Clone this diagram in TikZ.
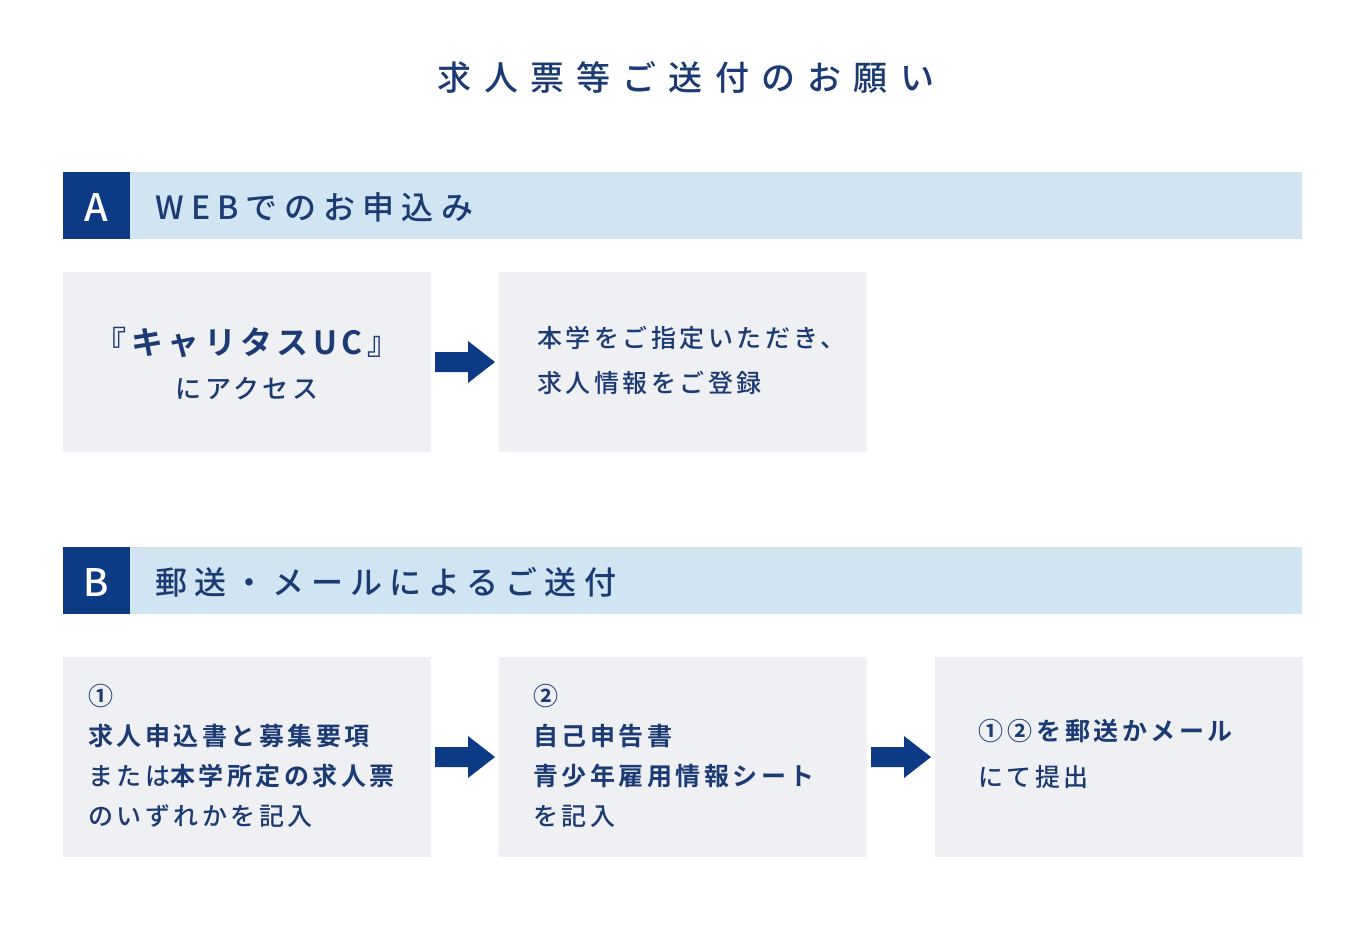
\documentclass[tikz,border=0pt]{standalone}
\usepackage{fontspec}
\setmainfont{Noto Sans CJK JP}[LetterSpace=14]
\newfontfamily\jpb{Noto Sans CJK JP Bold}[LetterSpace=14]
\newfontfamily\jpm{Noto Sans CJK JP Medium}[LetterSpace=14]
\newfontfamily\jph{Noto Sans CJK JP Medium}[LetterSpace=22]
\newfontfamily\jpt{Noto Sans CJK JP Medium}[LetterSpace=36]
\newfontfamily\jpo{Noto Sans CJK JP Medium}
\definecolor{navy}{HTML}{0D3A85}
\definecolor{txt}{HTML}{1C3A73}
\definecolor{lblue}{HTML}{D0E4F2}
\definecolor{gbox}{HTML}{EEF0F3}
\newcommand{\blockarrow}[2]{\fill[navy] (#1,#2-10) -- (#1+33,#2-10) -- (#1+33,#2-21) -- (#1+60,#2) -- (#1+33,#2+21) -- (#1+33,#2+10) -- (#1,#2+10) -- cycle;}
\begin{document}
\begin{tikzpicture}[x=1pt,y=-1pt,
  t/.style={text=txt,anchor=west,inner sep=0,font=\fontsize{24}{40}\selectfont,align=left}]
\useasboundingbox (0,0) rectangle (1367,933);
\node[text=txt,font=\jpt\fontsize{34}{40}\selectfont] (title) at (686,77) {求人票等ご送付のお願い};
% headers
\foreach \y/\L/\T [count=\i] in {172/A/WEBでのお申込み,547/B/郵送・メールによるご送付}{
  \fill[lblue] (63,\y) rectangle (1302,\y+67);
  \fill[navy] (63,\y) rectangle (130,\y+67);
  \node[text=white,font=\jpo\fontsize{38}{40}\selectfont] (h\i) at (96.5,\y+35) {\L};
  \node[text=txt,anchor=west,font=\jph\fontsize{32}{40}\selectfont] (ht\i) at (152,\y+35) {\T};
}
% boxes
\foreach \x/\y/\h/\n in {63/272/180/a1,499/272/180/a2,63/657/200/b1,499/657/200/b2,935/657/200/b3}{
  \fill[gbox] (\x,\y) rectangle (\x+368,\y+\h);
  \coordinate (\n) at (\x,\y);
}
\blockarrow{435}{362}
\blockarrow{435}{757}
\blockarrow{871}{757}
\node[text=txt,align=center,inner sep=0,font=\jpm\fontsize{26}{44}\selectfont] (ta1) at (247,364)
  {{\jpb\fontsize{32}{44}\selectfont 『キャリタスUC』}\\にアクセス};
\node[t,font=\jpm\fontsize{25}{45}\selectfont] (ta2) at (537,360) {本学をご指定いただき、\\求人情報をご登録};
\node[t,font=\jpm\fontsize{25}{40}\selectfont] (tb1) at (88,756) {{\jpb ①}\\{\jpb 求人申込書と募集要項}\\または{\jpb 本学所定の求人票}\\のいずれかを記入};
\node[t,font=\jpm\fontsize{25}{40}\selectfont] (tb2) at (533,756) {{\jpb ②}\\{\jpb 自己申告書}\\{\jpb 青少年雇用情報シート}\\を記入};
\node[t,font=\jpm\fontsize{25}{46}\selectfont] (tb3) at (978,754) {{\jpb ①\,②\,を郵送かメール}\\にて提出};
\end{tikzpicture}
\end{document}
